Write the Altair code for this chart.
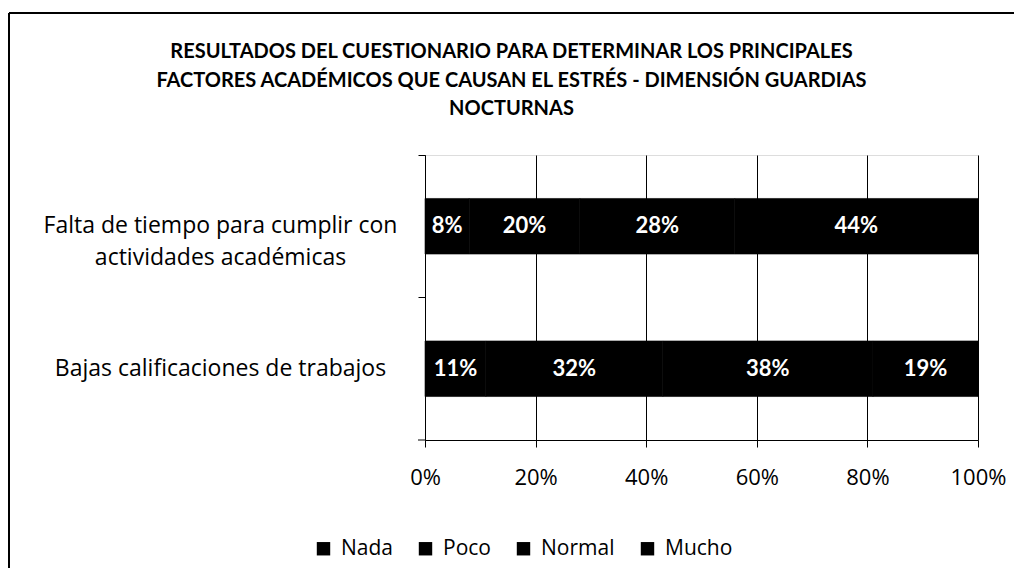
import altair as alt
import pandas as pd

# ---- data ----
categories = [
    "Falta de tiempo para cumplir con|actividades académicas",
    "Bajas calificaciones de trabajos",
]
levels = ["Nada", "Poco", "Normal", "Mucho"]
falta_values = [8, 20, 28, 44]
bajas_values = [11, 32, 38, 19]
x_ticks = [0, 0.2, 0.4, 0.6, 0.8, 1.0]
title_lines = [
    "RESULTADOS DEL CUESTIONARIO PARA DETERMINAR LOS PRINCIPALES",
    "FACTORES ACADÉMICOS QUE CAUSAN EL ESTRÉS - DIMENSIÓN GUARDIAS",
    "NOCTURNAS",
]

rows = []
for cat, vals in zip(categories, [falta_values, bajas_values]):
    for i, (lvl, v) in enumerate(zip(levels, vals)):
        rows.append({"categoria": cat, "nivel": lvl, "orden": i, "valor": v})
df = pd.DataFrame(rows)

FONT = "Open Sans"
TFONT = "Lato"
W, H = 553, 285

base = (
    alt.Chart(df)
    .transform_stack(
        stack="valor",
        groupby=["categoria"],
        as_=["x0", "x1"],
        offset="normalize",
        sort=[alt.SortField("orden", order="ascending")],
    )
    .transform_calculate(
        xm="(datum.x0 + datum.x1) / 2",
        etiqueta="datum.valor + '%'",
    )
)

y_enc = alt.Y(
    "categoria:N",
    sort=categories,
    title=None,
    scale=alt.Scale(paddingInner=0, paddingOuter=0),
    axis=alt.Axis(
        labelExpr="split(datum.label, '|')",
        labelAlign="center",
        labelPadding=198,
        labelFontSize=23,
        labelLineHeight=32,
        labelFont=FONT,
        labelColor="black",
        labelLimit=0,
        bandPosition=0,
        tickColor="black",
        tickSize=7,
        domainColor="black",
        domainWidth=1,
        grid=False,
    ),
)

x_axis = alt.Axis(
    format=".0%",
    values=x_ticks,
    grid=True,
    gridColor="black",
    gridWidth=1,
    gridOpacity=1,
    domainColor="black",
    tickColor="black",
    tickSize=7,
    labelFontSize=22,
    labelFont=FONT,
    labelColor="black",
    labelPadding=20,
    labelFlush=False,
)

bars = base.mark_bar(height={"band": 0.39}, stroke="black", strokeWidth=0.6).encode(
    y=y_enc,
    x=alt.X("x0:Q", scale=alt.Scale(domain=[0, 1]), axis=x_axis, title=None),
    x2="x1:Q",
    color=alt.Color(
        "nivel:N",
        sort=levels,
        scale=alt.Scale(domain=levels, range=["#000000"] * 4),
        legend=alt.Legend(
            title=None,
            orient="none",
            direction="horizontal",
            legendX=-112,
            legendY=383,
            symbolType="square",
            symbolSize=180,
            symbolStrokeWidth=0,
            symbolFillColor="black",
            labelFontSize=21,
            labelFont=FONT,
            labelColor="black",
            labelOffset=7,
            columnPadding=22,
        ),
    ),
)

labels = base.mark_text(
    color="white",
    fontSize=22,
    fontWeight="bold",
    font=TFONT,
).encode(
    y=alt.Y("categoria:N", sort=categories, title=None),
    x=alt.X("xm:Q", title=None),
    text="etiqueta:N",
)

deco = alt.Chart(pd.DataFrame({"d": [0]}))
top_border = deco.mark_rule(color="black", strokeWidth=2).encode(
    x=alt.value(-416), x2=alt.value(600), y=alt.value(-142), y2=alt.value(-142)
)
left_border = deco.mark_rule(color="black", strokeWidth=2).encode(
    x=alt.value(-416), x2=alt.value(-416), y=alt.value(-142), y2=alt.value(440)
)
bottom_tick = deco.mark_rule(color="black", strokeWidth=1).encode(
    x=alt.value(-7), x2=alt.value(0), y=alt.value(H), y2=alt.value(H)
)

chart = (
    alt.layer(bars, labels, top_border, left_border, bottom_tick)
    .properties(
        width=W,
        height=H,
        title=alt.TitleParams(
            text=title_lines,
            fontSize=20,
            font=TFONT,
            fontWeight="bold",
            color="black",
            anchor="middle",
            dx=-190,
            dy=143,
            offset=36,
            lineHeight=28.5,
        ),
        autosize=alt.AutoSizeParams(type="none"),
        padding={"left": 417, "top": 147, "right": 36, "bottom": 128},
    )
    .configure_view(stroke=None)
    .configure(background="white")
)

chart.save("out.html", embed_options={"renderer": "svg", "actions": False})
